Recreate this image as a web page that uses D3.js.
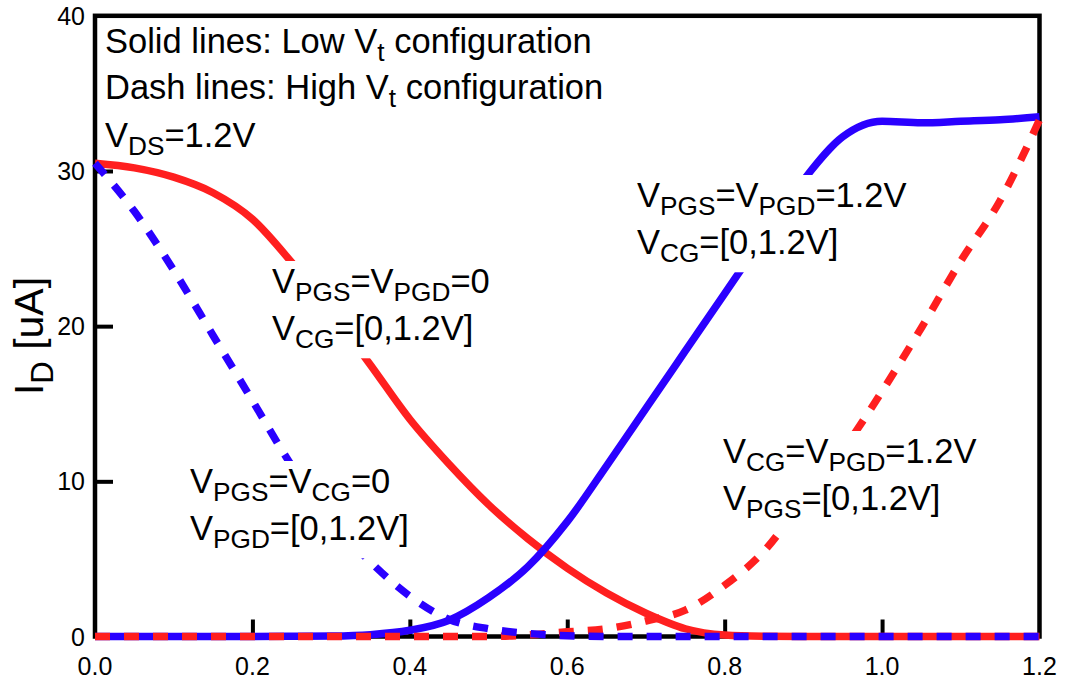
<!DOCTYPE html>
<html>
<head>
<meta charset="utf-8">
<script src="https://cdn.jsdelivr.net/npm/d3@7"></script>
<style>
  html, body { margin: 0; padding: 0; background: #fff; }
  svg { display: block; font-family: "Liberation Sans", Arial, Helvetica, sans-serif; }
</style>
</head>
<body>
<svg id="chart" width="1067" height="679"></svg>
<script>
// Gate voltage sweep [V] shared by all four transfer curves
const sweepV = [0, 0.05, 0.1, 0.15, 0.2, 0.25, 0.3, 0.35, 0.4, 0.45, 0.5, 0.55, 0.6,
                0.65, 0.7, 0.75, 0.8, 0.85, 0.9, 0.95, 1.0, 1.05, 1.1, 1.15, 1.2];

// Drain current I_D [uA]
// Low Vt, VPGS=VPGD=0, VCG swept
const lowVtPgZero = [30.5, 30.2, 29.6, 28.6, 26.9, 24.1, 20.9, 17.5, 14.0, 11.1, 8.5, 6.3, 4.4,
                     2.8, 1.5, 0.5, 0.1, 0.02, 0, 0, 0, 0, 0, 0, 0];
// Low Vt, VPGS=VPGD=1.2V, VCG swept
const lowVtPgHigh = [0, 0, 0, 0, 0, 0.01, 0.03, 0.12, 0.4, 1.05, 2.5, 4.5, 7.4,
                     11.0, 14.7, 18.4, 22.1, 25.8, 29.4, 32.2, 33.2, 33.1, 33.2, 33.3, 33.5];
// High Vt, VPGS=VCG=0, VPGD swept
const highVtPgd = [30.5, 27.4, 23.6, 19.4, 15.2, 11.0, 7.5, 4.8, 2.6, 1.1, 0.5, 0.2, 0.05,
                   0, 0, 0, 0, 0, 0, 0, 0, 0, 0, 0, 0];
// High Vt, VCG=VPGD=1.2V, VPGS swept
const highVtPgs = [0, 0, 0, 0, 0, 0, 0, 0, 0, 0, 0, 0.1, 0.3,
                   0.5, 1.0, 1.7, 3.3, 5.5, 8.8, 12.0, 15.8, 19.9, 24.2, 28.1, 33.3];

const xTickValues = [0, 0.2, 0.4, 0.6, 0.8, 1.0, 1.2];
const xTickLabels = ["0.0", "0.2", "0.4", "0.6", "0.8", "1.0", "1.2"];
const yTickValues = [0, 10, 20, 30, 40];
const yTickLabels = ["0", "10", "20", "30", "40"];

const RED = "#ff1f1f";
const BLUE = "#2a00ff";

const svg = d3.select("#chart");
const plotLeft = 95, plotRight = 1039.5, plotTop = 15.8, plotBottom = 636.5;

const x = d3.scaleLinear().domain([0, 1.2]).range([plotLeft, plotRight]);
const y = d3.scaleLinear().domain([0, 40]).range([plotBottom, plotTop]);

// Frame
svg.append("rect")
  .attr("x", plotLeft).attr("y", plotTop)
  .attr("width", plotRight - plotLeft).attr("height", plotBottom - plotTop)
  .attr("fill", "none").attr("stroke", "#000").attr("stroke-width", 4.5);

// Inward ticks on bottom axis (interior values only)
const xAxis = d3.axisTop(x)
  .tickValues(xTickValues.slice(1, -1))
  .tickSize(17).tickFormat("");
svg.append("g").attr("transform", `translate(0,${plotBottom})`).call(xAxis)
  .call(g => g.select(".domain").remove())
  .call(g => g.selectAll(".tick line").attr("stroke", "#000").attr("stroke-width", 4));

// Inward ticks on left axis
const yAxis = d3.axisRight(y)
  .tickValues(yTickValues.slice(1, -1))
  .tickSize(18).tickFormat("");
svg.append("g").attr("transform", `translate(${plotLeft},0)`).call(yAxis)
  .call(g => g.select(".domain").remove())
  .call(g => g.selectAll(".tick line").attr("stroke", "#000").attr("stroke-width", 4));

// Tick labels
svg.append("g").selectAll("text").data(xTickValues).join("text")
  .attr("x", d => x(d)).attr("y", 675)
  .attr("text-anchor", "middle")
  .attr("font-size", 25)
  .text((d, i) => xTickLabels[i]);

svg.append("g").selectAll("text").data(yTickValues).join("text")
  .attr("x", 85).attr("y", d => y(d) + 9)
  .attr("text-anchor", "end")
  .attr("font-size", 25)
  .text((d, i) => yTickLabels[i]);

// Y axis title
const yTitle = svg.append("text")
  .attr("transform", `translate(43,336) rotate(-90)`)
  .attr("text-anchor", "middle")
  .attr("font-size", 41);
yTitle.append("tspan").text("I");
yTitle.append("tspan").attr("font-size", 31).attr("dy", 10).text("D");
yTitle.append("tspan").attr("dy", -10).text(" [uA]");

// Curves
const line = d3.line().curve(d3.curveMonotoneX);
const pts = arr => sweepV.map((v, i) => [x(v), y(arr[i])]);

const series = [
  { data: lowVtPgZero, color: RED, dash: null },
  { data: lowVtPgHigh, color: BLUE, dash: null },
  { data: highVtPgs, color: RED, dash: "15,14" },
  { data: highVtPgd, color: BLUE, dash: "15,14" }
];
svg.append("g").selectAll("path").data(series).join("path")
  .attr("d", d => line(pts(d.data)))
  .attr("fill", "none")
  .attr("stroke", d => d.color)
  .attr("stroke-width", 7.5)
  .attr("stroke-dasharray", d => d.dash);

// Rich text helper: parts are [text, isSubscript]
function richText(g, xPos, yPos, parts, size) {
  const t = g.append("text").attr("x", xPos).attr("y", yPos).attr("font-size", size);
  let sub = false;
  parts.forEach(([s, isSub]) => {
    const ts = t.append("tspan").text(s);
    if (isSub && !sub) { ts.attr("font-size", size * 0.76).attr("dy", size * 0.24); }
    else if (!isSub && sub) { ts.attr("dy", -size * 0.24); }
    else if (isSub) { ts.attr("font-size", size * 0.76); }
    sub = isSub;
  });
  return t;
}

const FS = 34.5;

// Curve annotations on white boxes
function annotation(xPos, yPos, line1, line2) {
  const g = svg.append("g");
  const bg = g.append("rect").attr("fill", "#fff");
  const t1 = richText(g, xPos, yPos, line1, FS);
  const t2 = richText(g, xPos, yPos + 47, line2, FS);
  const b1 = t1.node().getBBox(), b2 = t2.node().getBBox();
  const x0 = Math.min(b1.x, b2.x) - 5, y0 = b1.y - 1;
  const x1 = Math.max(b1.x + b1.width, b2.x + b2.width) + 5, y1 = b2.y + b2.height + 4;
  bg.attr("x", x0).attr("y", y0).attr("width", x1 - x0).attr("height", y1 - y0);
}

annotation(272, 293, [["V"], ["PGS", true], ["=V"], ["PGD", true], ["=0"]],
                     [["V"], ["CG", true], ["=[0,1.2V]"]]);
annotation(190, 493, [["V"], ["PGS", true], ["=V"], ["CG", true], ["=0"]],
                     [["V"], ["PGD", true], ["=[0,1.2V]"]]);
annotation(637, 207, [["V"], ["PGS", true], ["=V"], ["PGD", true], ["=1.2V"]],
                     [["V"], ["CG", true], ["=[0,1.2V]"]]);
annotation(723, 463, [["V"], ["CG", true], ["=V"], ["PGD", true], ["=1.2V"]],
                     [["V"], ["PGS", true], ["=[0,1.2V]"]]);

// Configuration notes
const notes = svg.append("g");
richText(notes, 105, 53, [["Solid lines: Low V"], ["t", true], [" configuration"]], FS);
richText(notes, 105, 99, [["Dash lines: High V"], ["t", true], [" configuration"]], FS);
richText(notes, 105, 147, [["V"], ["DS", true], ["=1.2V"]], FS);
</script>
</body>
</html>
